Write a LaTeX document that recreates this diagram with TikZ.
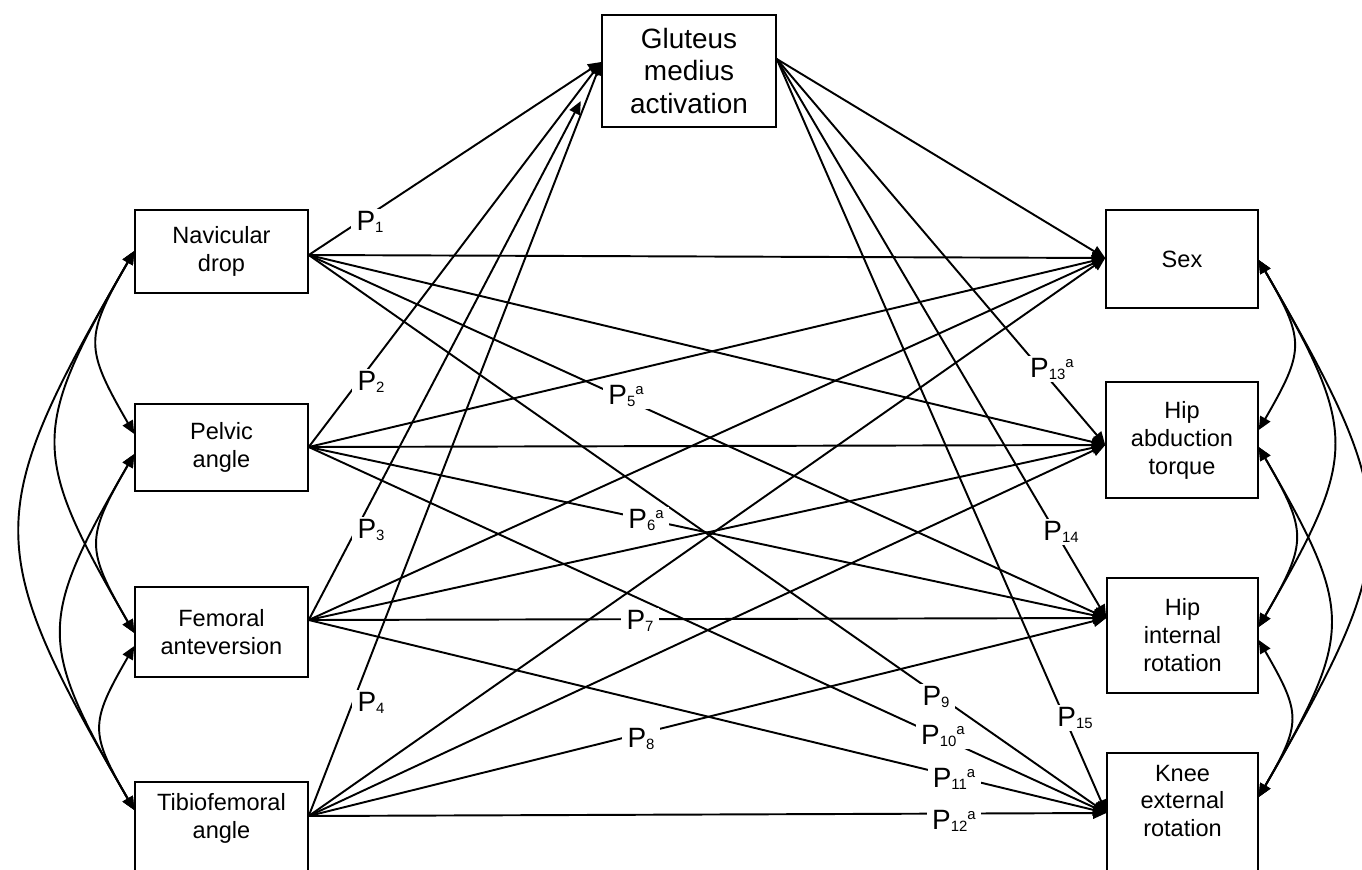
\documentclass[tikz,border=0pt]{standalone}
\usepackage{fontspec}
\setmainfont{Liberation Sans}
\usetikzlibrary{arrows.meta,calc}
\newcommand\lsub[1]{\raisebox{-1.5pt}{\fontsize{8.5pt}{9pt}\selectfont #1}}
\newcommand\lsup[1]{\raisebox{5.5pt}{\fontsize{8.5pt}{9pt}\selectfont #1}}
\begin{document}
\begin{tikzpicture}[x=0.02cm,y=-0.02cm,
  box/.style={draw, line width=0.85pt, inner sep=0pt, align=center,
    font=\fontsize{13.4pt}{15.9pt}\selectfont},
  boxtext/.style={inner sep=0pt, align=center, font=\fontsize{13.4pt}{15.9pt}\selectfont},
  link/.style={line width=1.1pt, -{Triangle[length=7.5pt,width=6.5pt]}},
  corr/.style={line width=1.1pt, {Triangle[length=7.5pt,width=6.5pt]}-{Triangle[length=7.5pt,width=6.5pt]}},
  lcurve/.style={out=240, in=120, looseness=1.4},
  rcurve/.style={out=-60, in=60, looseness=1.4},
  plabel/.style={fill=white, inner xsep=3pt, inner ysep=1pt,
    font=\fontsize{15.9pt}{18pt}\selectfont}
]
\useasboundingbox (0,0) rectangle (1362,869);

% left boxes
\node[box, minimum width=3.46cm, minimum height=1.66cm] (nav) at (221.5,251.5) {Navicular\\drop};
\node[box, minimum width=3.46cm, minimum height=1.74cm] (pel) at (221.5,447.5) {Pelvic\\angle};
\node[box, minimum width=3.46cm, minimum height=1.8cm] (fem) at (221.5,632) {Femoral\\anteversion};
\node[box, minimum width=3.46cm, minimum height=2.6cm, anchor=north] (tib) at (221.5,781) {};
\node[boxtext] (tibtxt) at (221.5,818) {Tibiofemoral\\angle};

% middle box
\node[box, minimum width=3.48cm, minimum height=2.24cm,
  font=\fontsize{15.9pt}{18.4pt}\selectfont] (glut) at (689,71) {Gluteus\\medius\\activation};

% right boxes
\node[box, minimum width=3.04cm, minimum height=1.96cm] (sex) at (1182,259) {Sex};
\node[box, minimum width=3.04cm, minimum height=2.32cm] (abd) at (1182,440) {Hip\\abduction\\torque};
\node[box, minimum width=3.02cm, minimum height=2.3cm] (hint) at (1182.5,635.5) {Hip\\internal\\rotation};
\node[box, minimum width=3.02cm, minimum height=2.6cm, anchor=north] (knee) at (1182.5,752) {};
\node[boxtext] (kneetxt) at (1182.5,801) {Knee\\external\\rotation};

% connection points
\coordinate (navS) at ($(nav.east)+(0,3.5)$);
\coordinate (pelS) at ($(pel.east)+(0,-0.5)$);
\coordinate (femS) at ($(fem.east)+(0,-12)$);
\coordinate (tibS) at ($(tib.north east)+(0,35)$);
\coordinate (glutT) at ($(glut.west)+(0,-9)$);
\coordinate (glutS) at ($(glut.east)+(0,-12)$);
\coordinate (glutT2) at ($(femS)!0.93!(glutT)$);
\coordinate (sexT) at ($(sex.west)+(0,-1)$);
\coordinate (abdT) at ($(abd.west)+(0,5)$);
\coordinate (hintT) at ($(hint.west)+(0,-17.5)$);
\coordinate (kneeT) at ($(knee.north west)+(0,61)$);

\coordinate (navW) at ($(nav.west)+(0,-0.5)$);
\coordinate (pelWu) at ($(pel.west)+(0,-13.5)$);
\coordinate (pelWl) at ($(pel.west)+(0,6.5)$);
\coordinate (femWu) at ($(fem.west)+(0,1)$);
\coordinate (femWl) at ($(fem.west)+(0,14)$);
\coordinate (tibW) at ($(tib.north west)+(0,29)$);

\coordinate (sexE) at ($(sex.east)+(0,1)$);
\coordinate (abdEu) at ($(abd.east)+(0,-10)$);
\coordinate (abdEl) at ($(abd.east)+(0,7)$);
\coordinate (hintEu) at ($(hint.east)+(0,-8.5)$);
\coordinate (hintEl) at ($(hint.east)+(0,4.5)$);
\coordinate (kneeE) at ($(knee.north east)+(0,45)$);

% paths to gluteus medius activation
\draw[link] (navS) -- (glutT);
\draw[link] (pelS) -- (glutT);
\draw[link] (femS) -- (glutT2);
\draw[link] (tibS) -- (glutT);

% paths from left variables to right variables
\foreach \s in {navS,pelS,femS,tibS}{
  \foreach \t in {sexT,abdT,hintT,kneeT}{
    \draw[link] (\s) -- (\t);
  }
}
% paths from gluteus medius activation
\foreach \t in {sexT,abdT,hintT,kneeT}{
  \draw[link] (glutS) -- (\t);
}

% correlations, left
\draw[corr] (navW) to[lcurve] (pelWu);
\draw[corr] (navW) to[lcurve] (femWu);
\draw[corr] (navW) to[lcurve] (tibW);
\draw[corr] (pelWl) to[lcurve] (femWu);
\draw[corr] (pelWl) to[lcurve] (tibW);
\draw[corr] (femWl) to[lcurve] (tibW);

% correlations, right
\draw[corr] (sexE) to[rcurve] (abdEu);
\draw[corr] (sexE) to[rcurve] (hintEu);
\draw[corr] (sexE) to[rcurve] (kneeE);
\draw[corr] (abdEl) to[rcurve] (hintEu);
\draw[corr] (abdEl) to[rcurve] (kneeE);
\draw[corr] (hintEl) to[rcurve] (kneeE);

% path labels
\node[plabel] (p1) at (370,222) {P\lsub{1}};
\node[plabel] (p2) at (371,382) {P\lsub{2}};
\node[plabel] (p3) at (371,530) {P\lsub{3}};
\node[plabel] (p4) at (371,703) {P\lsub{4}};
\node[plabel] (p5) at (626,396) {P\lsub{5}\lsup{a}};
\node[plabel] (p6) at (646,520) {P\lsub{6}\lsup{a}};
\node[plabel] (p7) at (640,621) {P\lsub{7}};
\node[plabel] (p8) at (641,739) {P\lsub{8}};
\node[plabel] (p9) at (936,697) {P\lsub{9}};
\node[plabel] (p10) at (943,736) {P\lsub{10}\lsup{a}};
\node[plabel] (p11) at (954,779) {P\lsub{11}\lsup{a}};
\node[plabel] (p12) at (954,821) {P\lsub{12}\lsup{a}};
\node[plabel] (p13) at (1052,369) {P\lsub{13}\lsup{a}};
\node[plabel] (p14) at (1061,532) {P\lsub{14}};
\node[plabel] (p15) at (1075,718) {P\lsub{15}};
\end{tikzpicture}
\end{document}
